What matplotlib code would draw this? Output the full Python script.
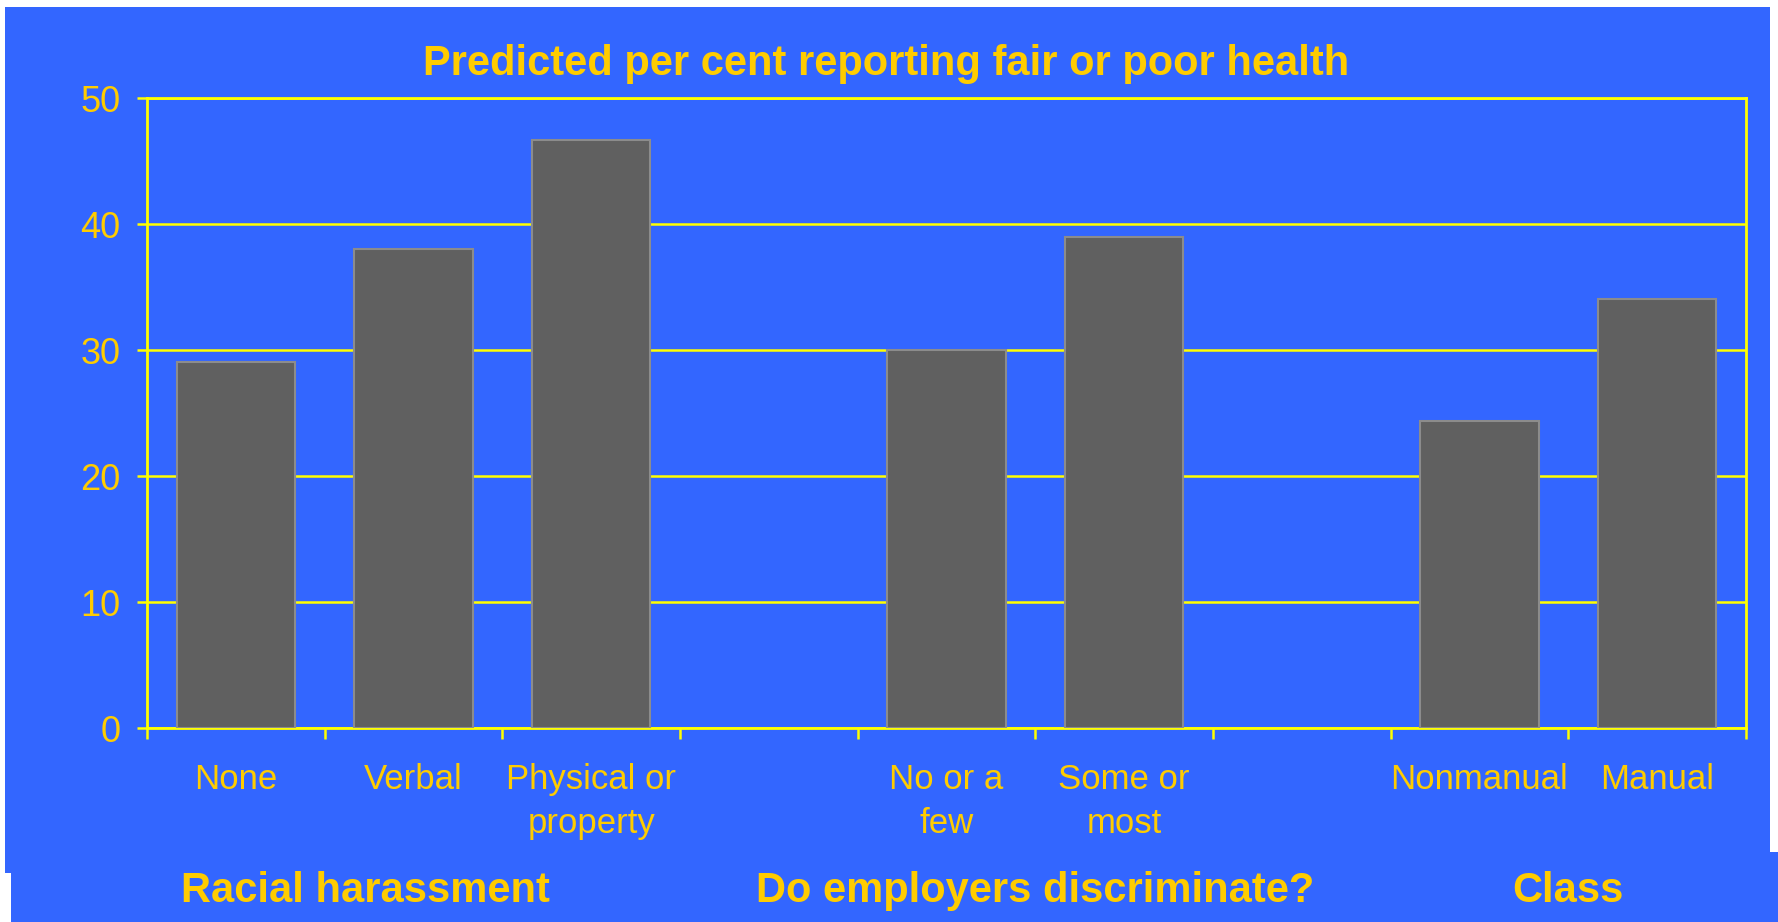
import numpy as np
import matplotlib
matplotlib.use("Agg")
import matplotlib.pyplot as plt
from matplotlib.patches import Rectangle
from matplotlib.transforms import blended_transform_factory

plt.rcParams['font.family'] = ['Liberation Sans', 'DejaVu Sans']

# slots 3 and 6 are empty spacers between the groups
categories = ["None", "Verbal", "Physical or\nproperty", "",
              "No or a\nfew", "Some or\nmost", "",
              "Nonmanual", "Manual"]
values = [29.1, 38.0, 46.7, np.nan, 30.0, 39.0, np.nan, 24.4, 34.1]
groups = ["Racial harassment", "Do employers discriminate?", "Class"]
group_centres = [0.73, 4.5, 7.5]
yticks = [0, 10, 20, 30, 40, 50]

BLUE = "#3366FF"
GOLD = "#FFCC00"
YELLOW = "#FFFF00"

fig = plt.figure(figsize=(17.78, 9.22), dpi=100, facecolor="white")

# blue slide background (two overlapping panels)
fig.patches.append(Rectangle((5/1778, 1-873/922), 1765/1778, 866/922,
                             transform=fig.transFigure, facecolor=BLUE,
                             edgecolor="none", zorder=-10))
fig.patches.append(Rectangle((11/1778, 0), 1767/1778, 70/922,
                             transform=fig.transFigure, facecolor=BLUE,
                             edgecolor="none", zorder=-10))

ax = fig.add_axes([147/1778, 1-728/922, 1599/1778, (728-98.3)/922])
ax.set_facecolor(BLUE)

x = np.arange(len(categories))
ax.bar(x, values, width=0.667, color="#606060", edgecolor="#8C8C8C",
       linewidth=1.5, zorder=3)

ax.set_xlim(-0.5, len(categories) - 0.5)
ax.set_ylim(0, 50)
ax.set_yticks(yticks)
ax.yaxis.grid(True, color=YELLOW, linewidth=1.8, zorder=1)
ax.set_axisbelow(True)

# major ticks at slot boundaries, labels on minor ticks at the centres
ax.set_xticks(np.arange(len(categories) + 1) - 0.5)
ax.set_xticklabels([])
ax.set_xticks(x, minor=True)
ax.set_xticklabels(categories, minor=True, fontsize=25, color=GOLD,
                   linespacing=1.42)
ax.tick_params(axis="x", which="major", direction="out", length=8,
               width=1.8, color=YELLOW)
ax.tick_params(axis="x", which="minor", length=0, pad=25)
ax.tick_params(axis="y", direction="out", length=7.2, width=1.8,
               color=YELLOW, labelsize=26, labelcolor=GOLD, pad=12)

for side in ["left", "bottom", "top", "right"]:
    ax.spines[side].set_color(YELLOW)
    ax.spines[side].set_linewidth(2)

fig.text(886/1778, 1-75/922,
         "Predicted per cent reporting fair or poor health",
         ha="center", va="baseline", fontsize=30, fontweight="bold",
         color=GOLD)

trans = blended_transform_factory(ax.transData, fig.transFigure)
for name, gx in zip(groups, group_centres):
    ax.text(gx, 1-902/922, name, transform=trans, ha="center",
            va="baseline", fontsize=30, fontweight="bold", color=GOLD,
            clip_on=False)

fig.savefig("out.png", dpi=100, facecolor="white")
